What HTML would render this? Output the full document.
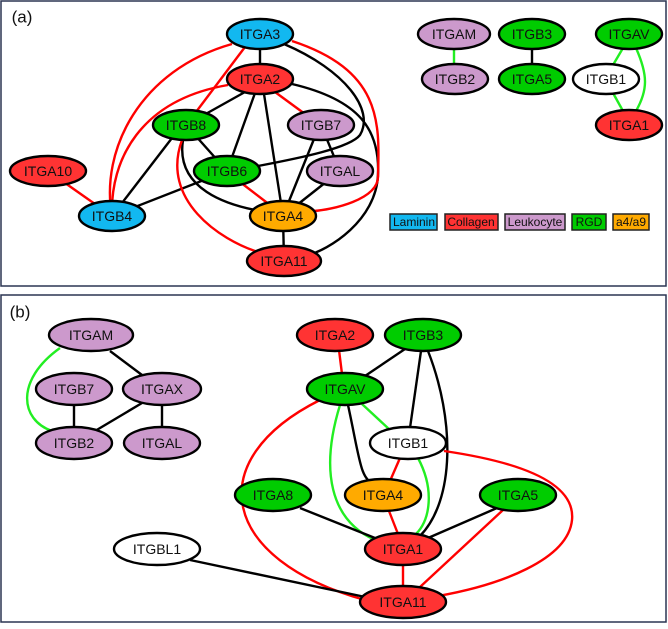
<!DOCTYPE html>
<html><head><meta charset="utf-8"><style>
body{margin:0;background:#fff}
text{font-family:"Liberation Sans",sans-serif;font-size:14px;text-anchor:middle;dominant-baseline:central;fill:#111}
.e{fill:none;stroke-width:2.4}
.k{stroke:#000}.r{stroke:#f00}.g{stroke:#2e2}
ellipse{stroke:#000;stroke-width:2.4}
</style></head><body>
<svg width="668" height="624" viewBox="0 0 668 624" xmlns="http://www.w3.org/2000/svg">
<rect x="1" y="1" width="665" height="285" fill="#fff" stroke="#2b3552" stroke-width="1.5"/>
<rect x="1" y="295" width="665" height="327" fill="#fff" stroke="#2b3552" stroke-width="1.5"/>
<text x="22" y="17" style="font-size:17px">(a)</text>
<text x="20" y="312" style="font-size:17px">(b)</text>
<!-- panel a edges -->
<path class="e k" d="M260 34L260 79"/>
<path class="e k" d="M284 44C345 70 375 110 360 135C350 148 300 158 258 166"/>
<path class="e k" d="M292 84C360 100 380 130 378 175C376 220 330 250 305 256"/>
<path class="e k" d="M245 92L186 125"/>
<path class="e k" d="M255 93L227 171"/>
<path class="e k" d="M264 94L283 216"/>
<path class="e k" d="M186 125L227 171"/>
<path class="e k" d="M172 138L112 216"/>
<path class="e k" d="M183 140C175 190 230 205 255 210"/>
<path class="e k" d="M227 171L112 216"/>
<path class="e k" d="M314 139L283 216"/>
<path class="e k" d="M321 125L340 171"/>
<path class="e k" d="M340 171L283 216"/>
<path class="e k" d="M283 216L284 261"/>
<path class="e r" d="M232 44C140 70 100 150 112 216"/>
<path class="e r" d="M228 85C140 100 110 160 112 216"/>
<path class="e r" d="M245 47L196 112"/>
<path class="e r" d="M275 92L305 114"/>
<path class="e r" d="M292 41C380 70 380 120 378 175C380 200 330 210 314 211"/>
<path class="e r" d="M48 171L112 216"/>
<path class="e r" d="M240 182L270 205"/>
<path class="e r" d="M182 140C160 200 220 240 258 252"/>
<path class="e g" d="M454 34L454 79"/>
<path class="e k" d="M532 34L532 79"/>
<path class="e g" d="M623 48L613 65"/>
<path class="e g" d="M613 93L623 111"/>
<path class="e g" d="M636 48C648 75 648 90 636 111"/>
<!-- panel a nodes -->
<ellipse cx="260" cy="34" rx="33" ry="15" fill="#12b8f0"/><text x="260" y="34">ITGA3</text>
<ellipse cx="260" cy="79" rx="33" ry="15" fill="#f33"/><text x="260" y="79">ITGA2</text>
<ellipse cx="186" cy="125" rx="33" ry="15" fill="#0c0"/><text x="186" y="125">ITGB8</text>
<ellipse cx="321" cy="125" rx="33" ry="15" fill="#c9c"/><text x="321" y="125">ITGB7</text>
<ellipse cx="48" cy="171" rx="38" ry="15" fill="#f33"/><text x="48" y="171">ITGA10</text>
<ellipse cx="227" cy="171" rx="33" ry="15" fill="#0c0"/><text x="227" y="171">ITGB6</text>
<ellipse cx="340" cy="171" rx="33" ry="15" fill="#c9c"/><text x="340" y="171">ITGAL</text>
<ellipse cx="112" cy="216" rx="33" ry="15" fill="#12b8f0"/><text x="112" y="216">ITGB4</text>
<ellipse cx="283" cy="216" rx="33" ry="15" fill="#fa0"/><text x="283" y="216">ITGA4</text>
<ellipse cx="284" cy="261" rx="37" ry="15" fill="#f33"/><text x="284" y="261">ITGA11</text>
<ellipse cx="454" cy="34" rx="36" ry="15" fill="#c9c"/><text x="454" y="34">ITGAM</text>
<ellipse cx="455" cy="79" rx="33" ry="15" fill="#c9c"/><text x="455" y="79">ITGB2</text>
<ellipse cx="532" cy="34" rx="33" ry="15" fill="#0c0"/><text x="532" y="34">ITGB3</text>
<ellipse cx="532" cy="79" rx="33" ry="15" fill="#0c0"/><text x="532" y="79">ITGA5</text>
<ellipse cx="629" cy="34" rx="33" ry="15" fill="#0c0"/><text x="629" y="34">ITGAV</text>
<ellipse cx="606" cy="79" rx="33" ry="15" fill="#fff"/><text x="606" y="79">ITGB1</text>
<ellipse cx="629" cy="125" rx="33" ry="15" fill="#f33"/><text x="629" y="125">ITGA1</text>
<!-- legend -->
<g>
<rect x="390" y="214" width="47" height="16" fill="#12b8f0" stroke="#222" stroke-width="1.5"/><text x="414" y="222" style="font-size:12px">Laminin</text>
<rect x="445" y="214" width="53" height="16" fill="#f33" stroke="#222" stroke-width="1.5"/><text x="471" y="222" style="font-size:12px">Collagen</text>
<rect x="505" y="214" width="60" height="16" fill="#c9c" stroke="#222" stroke-width="1.5"/><text x="535" y="222" style="font-size:12px">Leukocyte</text>
<rect x="572" y="214" width="34" height="16" fill="#0c0" stroke="#222" stroke-width="1.5"/><text x="589" y="222" style="font-size:12px">RGD</text>
<rect x="613" y="214" width="36" height="16" fill="#fa0" stroke="#222" stroke-width="1.5"/><text x="631" y="222" style="font-size:12px">a4/a9</text>
</g>
<!-- panel b edges -->
<path class="e g" d="M60 348C15 380 20 420 52 431"/>
<path class="e k" d="M110 351L142 375"/>
<path class="e k" d="M74 389L74 443"/>
<path class="e k" d="M142 403L95 431"/>
<path class="e k" d="M162 389L162 443"/>
<path class="e r" d="M339 350L342 374"/>
<path class="e k" d="M405 349L365 376"/>
<path class="e k" d="M421 351L410 428"/>
<path class="e k" d="M428 351C455 420 455 500 420 536"/>
<path class="e r" d="M320 400C200 460 220 560 365 600"/>
<path class="e g" d="M340 405C320 470 330 520 375 540"/>
<path class="e k" d="M348 405C360 460 360 480 375 484"/>
<path class="e g" d="M362 404L390 430"/>
<path class="e r" d="M400 458L390 481"/>
<path class="e g" d="M418 458C435 490 430 520 416 534"/>
<path class="e r" d="M444 451C540 465 575 490 572 520C568 560 500 585 438 596"/>
<path class="e k" d="M300 508L375 538"/>
<path class="e r" d="M389 511L398 534"/>
<path class="e k" d="M497 508L428 538"/>
<path class="e r" d="M503 510L420 587"/>
<path class="e r" d="M403 565L403 587"/>
<path class="e k" d="M190 560L370 598"/>
<!-- panel b nodes -->
<ellipse cx="91" cy="335" rx="42" ry="16" fill="#c9c"/><text x="91" y="335">ITGAM</text>
<ellipse cx="74" cy="389" rx="38" ry="16" fill="#c9c"/><text x="74" y="389">ITGB7</text>
<ellipse cx="162" cy="389" rx="39" ry="16" fill="#c9c"/><text x="162" y="389">ITGAX</text>
<ellipse cx="74" cy="443" rx="38" ry="16" fill="#c9c"/><text x="74" y="443">ITGB2</text>
<ellipse cx="162" cy="443" rx="38" ry="16" fill="#c9c"/><text x="162" y="443">ITGAL</text>
<ellipse cx="335" cy="335" rx="38" ry="16" fill="#f33"/><text x="335" y="335">ITGA2</text>
<ellipse cx="423" cy="335" rx="38" ry="16" fill="#0c0"/><text x="423" y="335">ITGB3</text>
<ellipse cx="345" cy="389" rx="38" ry="16" fill="#0c0"/><text x="345" y="389">ITGAV</text>
<ellipse cx="408" cy="443" rx="38" ry="16" fill="#fff"/><text x="408" y="443">ITGB1</text>
<ellipse cx="273" cy="495" rx="38" ry="16" fill="#0c0"/><text x="273" y="495">ITGA8</text>
<ellipse cx="383" cy="495" rx="38" ry="16" fill="#fa0"/><text x="383" y="495">ITGA4</text>
<ellipse cx="518" cy="495" rx="38" ry="16" fill="#0c0"/><text x="518" y="495">ITGA5</text>
<ellipse cx="157" cy="549" rx="43" ry="16" fill="#fff"/><text x="157" y="549">ITGBL1</text>
<ellipse cx="403" cy="549" rx="38" ry="16" fill="#f33"/><text x="403" y="549">ITGA1</text>
<ellipse cx="403" cy="602" rx="43" ry="16" fill="#f33"/><text x="403" y="602">ITGA11</text>
</svg>
</body></html>
